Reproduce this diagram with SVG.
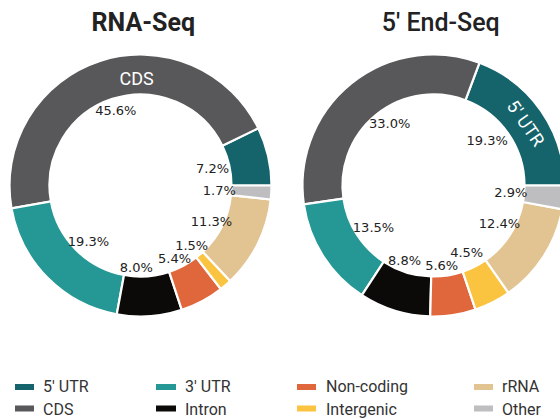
<svg xmlns="http://www.w3.org/2000/svg" width="560" height="419" viewBox="0 0 560 419">
<style>
.w{stroke:#ffffff;stroke-width:2.2;stroke-linejoin:miter}
.utr5{fill:#15646b}.cds{fill:#58585a}.utr3{fill:#259795}.intron{fill:#0b0a08}
.nonc{fill:#e0663c}.inter{fill:#fbc440}.rrna{fill:#e2c492}.other{fill:#bebec1}
.pct{font-family:"DejaVu Sans",sans-serif;font-size:13px;fill:#222;text-anchor:middle}
.title{font-family:Roboto,"Liberation Sans",sans-serif;font-size:25px;fill:#222;text-anchor:middle}
.inl{font-family:Roboto,"Liberation Sans",sans-serif;font-size:18px;fill:#ffffff;text-anchor:middle}
.leg{font-family:Roboto,"Liberation Sans",sans-serif;font-size:16px;fill:#333}
</style>
<rect width="560" height="419" fill="#ffffff"/>
<text class="title" x="143.3" y="31" font-weight="700">RNA-Seq</text>
<text class="title" x="440.8" y="31" font-weight="500">5' End-Seq</text>

<g id="rna-seq">
<path class="w utr5" d="M271.5,185.5 A131,131 0 0 0 258.32,128.24 L222.35,145.72 A91,91 0 0 1 231.5,185.5 Z"/>
<path class="w cds" d="M258.32,128.24 A131,131 0 0 0 11.52,208.43 L50.90,201.43 A91,91 0 0 1 222.35,145.72 Z"/>
<path class="w utr3" d="M11.52,208.43 A131,131 0 0 0 116.76,314.33 L124.01,274.99 A91,91 0 0 1 50.90,201.43 Z"/>
<path class="w intron" d="M116.76,314.33 A131,131 0 0 0 181.77,309.83 L169.17,271.87 A91,91 0 0 1 124.01,274.99 Z"/>
<path class="w nonc" d="M181.77,309.83 A131,131 0 0 0 220.79,289.01 L196.27,257.40 A91,91 0 0 1 169.17,271.87 Z"/>
<path class="w inter" d="M220.79,289.01 A131,131 0 0 0 230.18,281.00 L202.79,251.84 A91,91 0 0 1 196.27,257.40 Z"/>
<path class="w rrna" d="M230.18,281.00 A131,131 0 0 0 270.75,199.47 L230.98,195.20 A91,91 0 0 1 202.79,251.84 Z"/>
<path class="w other" d="M270.75,199.47 A131,131 0 0 0 271.5,185.5 L231.5,185.5 A91,91 0 0 1 230.98,195.20 Z"/>
<text class="inl" x="136.7" y="85">CDS</text>
<text class="pct" x="115.8" y="115">45.6%</text>
<text class="pct" x="212.5" y="173.3">7.2%</text>
<text class="pct" x="219.3" y="195">1.7%</text>
<text class="pct" x="211.5" y="226">11.3%</text>
<text class="pct" x="88.5" y="246">19.3%</text>
<text class="pct" x="191.7" y="250">1.5%</text>
<text class="pct" x="174.5" y="263.3">5.4%</text>
<text class="pct" x="136.3" y="271.7">8.0%</text>
</g>

<g id="end-seq">
<path class="w utr5" d="M564.5,185.5 A131,131 0 0 0 479.42,62.81 L465.40,100.27 A91,91 0 0 1 524.5,185.5 Z"/>
<path class="w cds" d="M479.42,62.81 A131,131 0 0 0 303.86,204.37 L343.45,198.60 A91,91 0 0 1 465.40,100.27 Z"/>
<path class="w utr3" d="M303.86,204.37 A131,131 0 0 0 361.92,295.22 L383.78,261.72 A91,91 0 0 1 343.45,198.60 Z"/>
<path class="w intron" d="M361.92,295.22 A131,131 0 0 0 430.21,316.46 L431.21,276.47 A91,91 0 0 1 383.78,261.72 Z"/>
<path class="w nonc" d="M430.21,316.46 A131,131 0 0 0 475.54,309.57 L462.71,271.69 A91,91 0 0 1 431.21,276.47 Z"/>
<path class="w inter" d="M475.54,309.57 A131,131 0 0 0 508.49,292.91 L485.59,260.12 A91,91 0 0 1 462.71,271.69 Z"/>
<path class="w rrna" d="M508.49,292.91 A131,131 0 0 0 562.33,209.24 L522.99,201.99 A91,91 0 0 1 485.59,260.12 Z"/>
<path class="w other" d="M562.33,209.24 A131,131 0 0 0 564.5,185.5 L524.5,185.5 A91,91 0 0 1 522.99,201.99 Z"/>
<text class="inl" transform="translate(525.5,123.5) rotate(55.3)" y="6">5' UTR</text>
<text class="pct" x="389.7" y="128.3">33.0%</text>
<text class="pct" x="487.2" y="145">19.3%</text>
<text class="pct" x="510.8" y="196.7">2.9%</text>
<text class="pct" x="373.5" y="231.7">13.5%</text>
<text class="pct" x="499.5" y="228.3">12.4%</text>
<text class="pct" x="466.7" y="256.7">4.5%</text>
<text class="pct" x="404.5" y="265">8.8%</text>
<text class="pct" x="441.7" y="270">5.6%</text>
</g>

<g id="legend">
<rect class="utr5" x="15" y="384" width="19" height="6"/>
<text class="leg" x="43" y="392">5' UTR</text>
<rect class="cds" x="15" y="405.5" width="19" height="6"/>
<text class="leg" x="43" y="414.5">CDS</text>
<rect class="utr3" x="156" y="384" width="20" height="6"/>
<text class="leg" x="185" y="392">3' UTR</text>
<rect class="intron" x="156" y="405.5" width="20" height="6"/>
<text class="leg" x="185" y="414.5">Intron</text>
<rect class="nonc" x="297" y="384" width="19" height="6"/>
<text class="leg" x="326" y="392">Non-coding</text>
<rect class="inter" x="297" y="405.5" width="19" height="6"/>
<text class="leg" x="326" y="414.5">Intergenic</text>
<rect class="rrna" x="474" y="384" width="19" height="6"/>
<text class="leg" x="502" y="392">rRNA</text>
<rect class="other" x="474" y="405.5" width="19" height="6"/>
<text class="leg" x="502" y="414.5">Other</text>
</g>
</svg>
